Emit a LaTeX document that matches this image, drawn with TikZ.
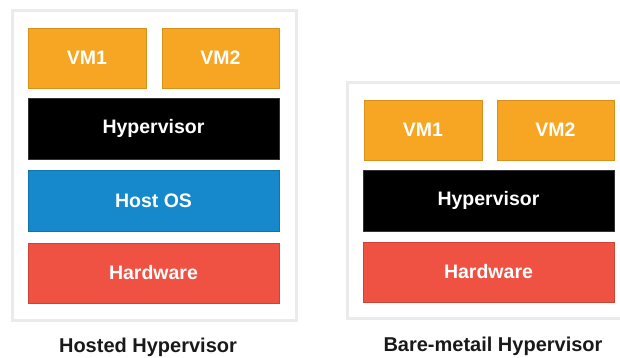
\documentclass[tikz,border=0pt]{standalone}
\usepackage{fontspec}
\setmainfont{Liberation Sans}
\definecolor{vmcol}{HTML}{F6A623}
\definecolor{vmedge}{HTML}{D8901C}
\definecolor{oscol}{HTML}{1589CB}
\definecolor{osedge}{HTML}{1272AA}
\definecolor{hwcol}{HTML}{EF5143}
\definecolor{hwedge}{HTML}{CF4236}
\definecolor{framecol}{HTML}{EBEBEB}
\begin{document}
\begin{tikzpicture}[x=1pt,y=-1pt,
  layer/.style={rectangle,inner sep=0pt,text=white,font=\fontsize{19.5}{22}\selectfont\bfseries,line width=0.8pt},
  vmbox/.style={layer,fill=vmcol,draw=vmedge,minimum width=118pt,minimum height=60pt},
  hvbox/.style={layer,fill=black,draw=black!80,minimum width=251pt,minimum height=61pt},
  osbox/.style={layer,fill=oscol,draw=osedge,minimum width=251pt,minimum height=61pt},
  hwbox/.style={layer,fill=hwcol,draw=hwedge,minimum width=251pt,minimum height=60pt},
  frame/.style={draw=framecol,line width=3pt},
  caption/.style={font=\fontsize{20}{23}\selectfont\bfseries,text=black!90}]
\useasboundingbox (0,0) rectangle (620,358);
% frames
\draw[frame] (12,11) rectangle (296,320);
\draw[frame] (625,83) -- (347,83) -- (347,318) -- (625,318);
% left stack
\node[vmbox] (lvm1) at (87,58) {VM1};
\node[vmbox,minimum width=117pt] (lvm2) at (220.5,58) {VM2};
\node[hvbox] (lhv) at (153.5,128.5) {Hypervisor};
\node[osbox] (los) at (153.5,200.5) {Host OS};
\node[hwbox] (lhw) at (153.5,273) {Hardware};
\node[caption] (lcap) at (148,347) {Hosted Hypervisor};
% right stack
\node[vmbox] (rvm1) at (423,130) {VM1};
\node[vmbox,minimum width=117pt] (rvm2) at (555.5,130) {VM2};
\node[hvbox] (rhv) at (488.5,200.5) {Hypervisor};
\node[hwbox] (rhw) at (488.5,272) {Hardware};
\node[caption] (rcap) at (493,346) {Bare-metail Hypervisor};
\end{tikzpicture}
\end{document}
